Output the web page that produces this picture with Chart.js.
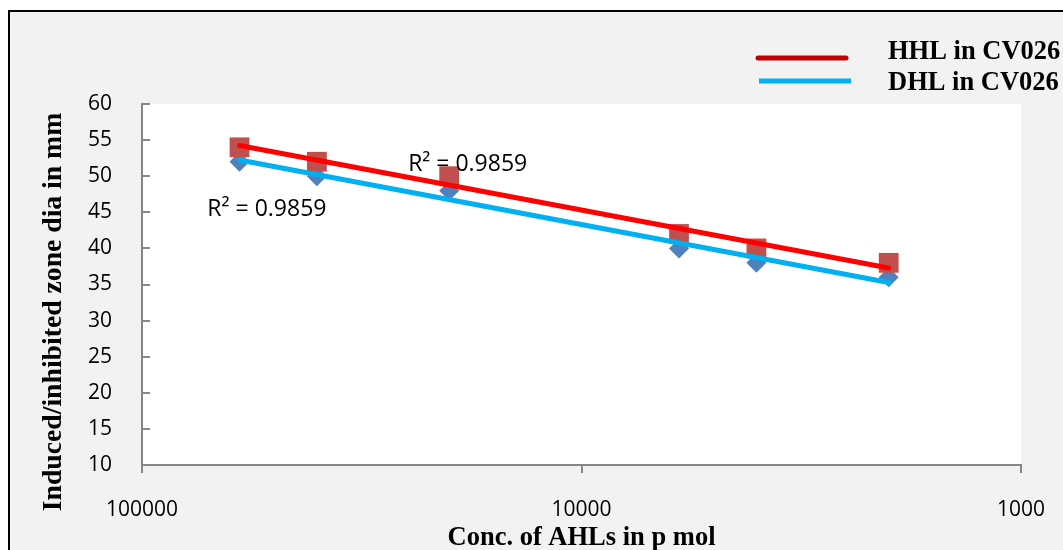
<!DOCTYPE html>
<html>
<head>
<meta charset="utf-8">
<title>AHL zone diameter</title>
<script src="https://cdn.jsdelivr.net/npm/chart.js@4.4.1/dist/chart.umd.min.js"></script>
<style>
  html, body { margin: 0; padding: 0; background: #fff; overflow: hidden; }
  #frame {
    position: absolute; left: 8px; top: 10px;
    width: 1053px; height: 538px;
    border-left: 2px solid #000; border-top: 2px solid #000;
    background: #f2f2f2;
  }
  canvas { display: block; }
</style>
</head>
<body>
<div id="frame"><canvas id="ahlChart" width="1053" height="538"></canvas></div>
<script>
// data
const concentrations = [60000, 40000, 20000, 6000, 4000, 2000];   // p mol
const hhlZone = [54, 52, 50, 42, 40, 38];                           // mm
const dhlZone = [52, 50, 48, 40, 38, 36];                           // mm
const seriesLabels = ['HHL in CV026', 'DHL in CV026'];
const xTickValues = [100000, 10000, 1000];
const yMin = 10, yMax = 60, yStep = 5;

// Excel style logarithmic trendline: y = a*log(x) + b
function logFit(xs, ys) {
    const lx = xs.map(Math.log10);
    const n = xs.length;
    const mx = lx.reduce((a, b) => a + b, 0) / n;
    const my = ys.reduce((a, b) => a + b, 0) / n;
    let sxy = 0, sxx = 0, syy = 0;
    for (let i = 0; i < n; i++) {
        sxy += (lx[i] - mx) * (ys[i] - my);
        sxx += (lx[i] - mx) * (lx[i] - mx);
        syy += (ys[i] - my) * (ys[i] - my);
    }
    const slope = sxy / sxx;
    return {
        at: x => my + slope * (Math.log10(x) - mx),
        r2: (sxy * sxy) / (sxx * syy)
    };
}

function toPoints(xs, ys) {
    return xs.map((x, i) => ({ x: x, y: ys[i] }));
}

function trendPoints(xs, fit) {
    const ends = [xs[0], xs[xs.length - 1]];
    return ends.map(x => ({ x: x, y: fit.at(x) }));
}

const hhlFit = logFit(concentrations, hhlZone);
const dhlFit = logFit(concentrations, dhlZone);

const decorPlugin = {
    id: 'decor',
    beforeDraw(chart) {
        const { ctx, chartArea: a } = chart;
        ctx.save();
        ctx.fillStyle = '#ffffff';
        ctx.fillRect(a.left, a.top, a.right - a.left, a.bottom - a.top);
        ctx.restore();
    },
    afterDraw(chart, args, opts) {
        const { ctx, chartArea: a, scales } = chart;
        ctx.save();

        // inward tick marks on the y axis
        ctx.strokeStyle = '#868686';
        ctx.lineWidth = 2;
        scales.y.ticks.forEach(t => {
            const y = Math.round(scales.y.getPixelForValue(t.value));
            ctx.beginPath();
            ctx.moveTo(a.left, y);
            ctx.lineTo(a.left + 8, y);
            ctx.stroke();
        });

        // R² labels
        ctx.fillStyle = '#000';
        ctx.font = '23px "Open Sans"';
        ctx.textAlign = 'left';
        ctx.textBaseline = 'alphabetic';
        opts.r2Labels.forEach(l => {
            ctx.fillText(l.text, scales.x.getPixelForValue(l.x), scales.y.getPixelForValue(l.y));
        });

        // axis titles
        ctx.font = 'bold 26.5px "Liberation Serif"';
        ctx.textAlign = 'center';
        ctx.fillText('Conc. of AHLs in p mol', (a.left + a.right) / 2, 533);
        ctx.save();
        ctx.font = 'bold 27.7px "Liberation Serif"';
        ctx.translate(51, 300);
        ctx.rotate(-Math.PI / 2);
        ctx.fillText('Induced/inhibited zone dia in mm', 0, 0);
        ctx.restore();

        // legend
        ctx.textAlign = 'left';
        opts.legend.forEach(item => {
            ctx.strokeStyle = item.color;
            ctx.lineWidth = 5;
            ctx.lineCap = item.cap;
            ctx.beginPath();
            ctx.moveTo(item.x0, item.ly);
            ctx.lineTo(item.x1, item.ly);
            ctx.stroke();
            ctx.fillStyle = '#000';
            ctx.fillText(item.text, 878, item.ty);
        });
        ctx.restore();
    }
};

Chart.defaults.font.family = '"Open Sans", sans-serif';
Chart.defaults.color = '#000';

const ctx = document.getElementById('ahlChart').getContext('2d');
const ahlChart = new Chart(ctx, {
    type: 'scatter',
    data: {
        datasets: [
            {
                type: 'line',
                label: seriesLabels[0] + ' trend',
                data: trendPoints(concentrations, hhlFit),
                borderColor: '#ff0000',
                borderWidth: 5,
                borderCapStyle: 'round',
                pointRadius: 0,
                fill: false,
                order: 0
            },
            {
                type: 'line',
                label: seriesLabels[1] + ' trend',
                data: trendPoints(concentrations, dhlFit),
                borderColor: '#00b0f0',
                borderWidth: 5,
                borderCapStyle: 'round',
                pointRadius: 0,
                fill: false,
                order: 1
            },
            {
                label: seriesLabels[0],
                data: toPoints(concentrations, hhlZone),
                pointStyle: 'rect',
                pointRadius: 14,
                backgroundColor: '#c0504d',
                borderColor: '#c0504d',
                borderWidth: 0,
                order: 2
            },
            {
                label: seriesLabels[1],
                data: toPoints(concentrations, dhlZone),
                pointStyle: 'rectRot',
                pointRadius: 10,
                backgroundColor: '#4f81bd',
                borderColor: '#4f81bd',
                borderWidth: 0,
                order: 3
            }
        ]
    },
    options: {
        responsive: false,
        animation: false,
        devicePixelRatio: 1,
        layout: { padding: { top: 92, right: 42, left: 0, bottom: 0 } },
        plugins: {
            legend: { display: false },
            tooltip: { enabled: false },
            decor: {
                r2Labels: [
                    { text: 'R\u00b2 = ' + dhlFit.r2.toFixed(4), x: 71000, y: 44.5 },
                    { text: 'R\u00b2 = ' + hhlFit.r2.toFixed(4), x: 24800, y: 50.7 }
                ],
                legend: [
                    { text: seriesLabels[0], color: '#c00000', cap: 'round', x0: 748, x1: 836, ly: 46, ty: 47 },
                    { text: seriesLabels[1], color: '#00b0f0', cap: 'butt', x0: 749, x1: 841, ly: 69, ty: 78 }
                ]
            }
        },
        scales: {
            x: {
                type: 'logarithmic',
                reverse: true,
                min: 1000,
                max: 100000,
                afterBuildTicks: scale => {
                    scale.ticks = xTickValues.map(v => ({ value: v }));
                },
                afterFit: scale => {
                    scale.height = 85;
                    scale.paddingLeft = 0;
                    scale.paddingRight = 0;
                },
                ticks: {
                    font: { size: 21 },
                    padding: 24,
                    maxRotation: 0,
                    callback: value => String(value)
                },
                grid: {
                    drawOnChartArea: false,
                    drawTicks: true,
                    tickLength: 8,
                    color: '#868686',
                    lineWidth: 2
                },
                border: { display: true, color: '#868686', width: 2 }
            },
            y: {
                min: yMin,
                max: yMax,
                afterFit: scale => {
                    scale.width = 132;
                    scale.paddingTop = 0;
                    scale.paddingBottom = 0;
                },
                ticks: {
                    stepSize: yStep,
                    font: { size: 21 },
                    padding: 22
                },
                grid: { display: false },
                border: { display: true, color: '#868686', width: 2 }
            }
        }
    },
    plugins: [decorPlugin]
});
</script>
</body>
</html>
